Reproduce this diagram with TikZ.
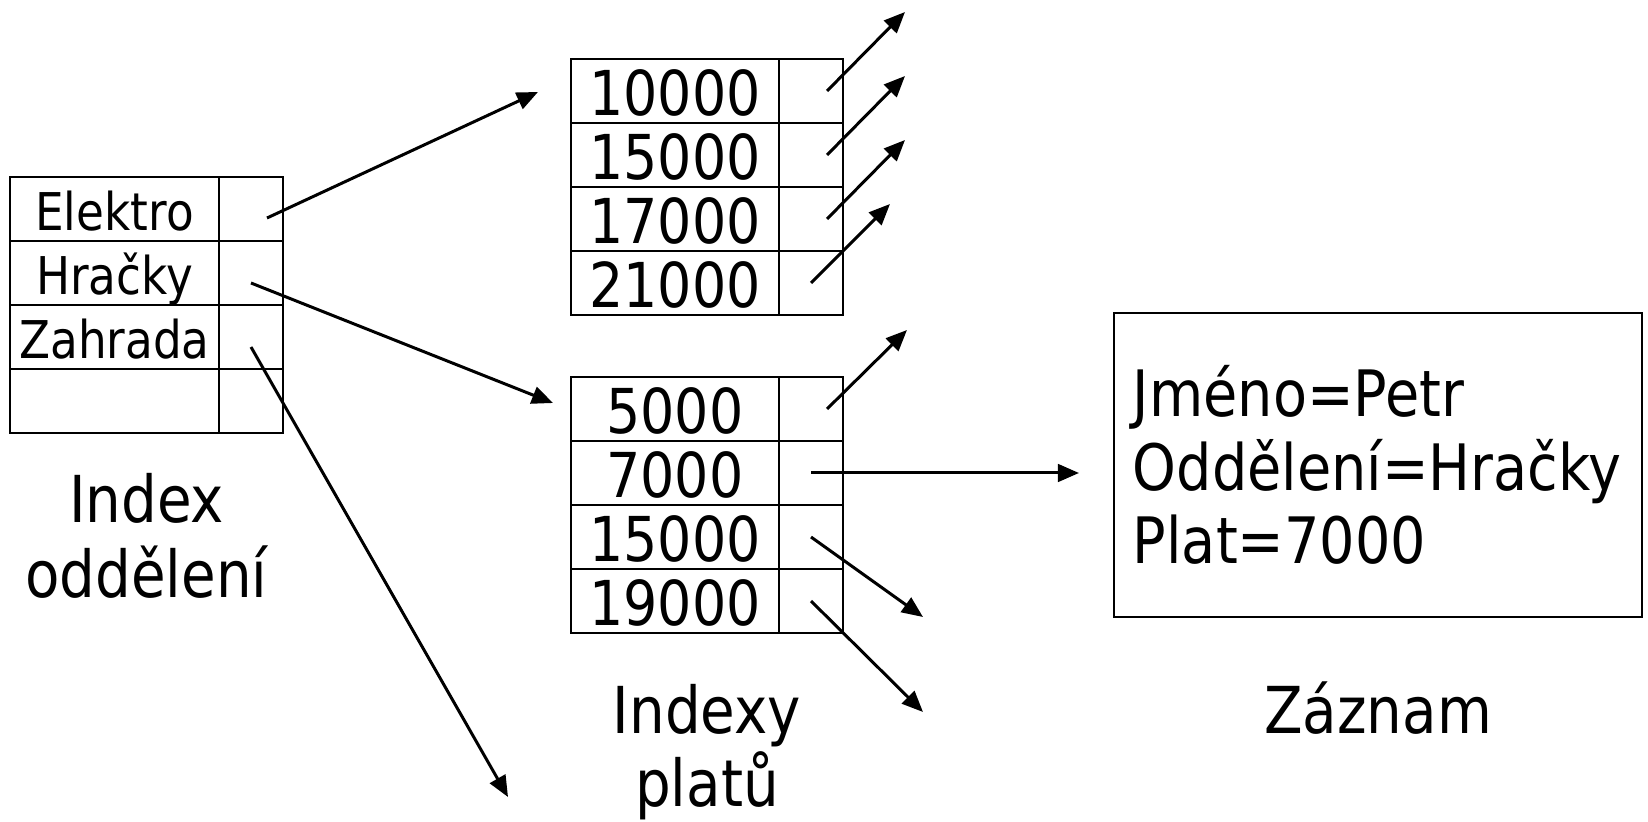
\documentclass[tikz,border=0pt]{standalone}
\usepackage{fontspec}
\setmainfont{DejaVu Sans}[FakeStretch=0.87]
\usetikzlibrary{arrows.meta}

\tikzset{
  cell/.style={draw, line width=0.6pt, inner sep=0pt, minimum height=6.4mm},
  deptkey/.style={cell, minimum width=20.9mm, font=\fontsize{14.8pt}{17pt}\selectfont, text height=12.5pt, text depth=0pt},
  salkey/.style={cell, minimum width=20.8mm, font=\fontsize{17.6pt}{20.8pt}\selectfont, text height=14.2pt, text depth=0pt},
  ptrcell/.style={cell, minimum width=6.4mm},
  ptr/.style={line width=0.85pt, -{Triangle[length=6pt,width=5pt]}},
  lbl/.style={anchor=base, inner sep=0pt, font=\fontsize{18.4pt}{21pt}\selectfont},
}

\begin{document}
\begin{tikzpicture}[x=0.01cm,y=-0.01cm]
  \useasboundingbox (0,0) rectangle (1648,822);

  % index oddeleni
  \node[deptkey] (d1) at (114.5,209) {Elektro};
  \node[deptkey] (d2) at (114.5,273) {Hračky};
  \node[deptkey] (d3) at (114.5,337) {Zahrada};
  \node[deptkey] (d4) at (114.5,401) {};
  \node[ptrcell] (d1p) at (251,209) {};
  \node[ptrcell] (d2p) at (251,273) {};
  \node[ptrcell] (d3p) at (251,337) {};
  \node[ptrcell] (d4p) at (251,401) {};
  \node[lbl] (deptA) at (146.5,523) {Index};
  \node[lbl] (deptB) at (146.5,598) {oddělení};

  % indexy platu
  \node[salkey] (s1) at (675,91) {10000};
  \node[salkey] (s2) at (675,155) {15000};
  \node[salkey] (s3) at (675,219) {17000};
  \node[salkey] (s4) at (675,283) {21000};
  \node[ptrcell] (s1p) at (811,91) {};
  \node[ptrcell] (s2p) at (811,155) {};
  \node[ptrcell] (s3p) at (811,219) {};
  \node[ptrcell] (s4p) at (811,283) {};

  \node[salkey] (b1) at (675,409) {5000};
  \node[salkey] (b2) at (675,473) {7000};
  \node[salkey] (b3) at (675,537) {15000};
  \node[salkey] (b4) at (675,601) {19000};
  \node[ptrcell] (b1p) at (811,409) {};
  \node[ptrcell] (b2p) at (811,473) {};
  \node[ptrcell] (b3p) at (811,537) {};
  \node[ptrcell] (b4p) at (811,601) {};
  \node[lbl] (salA) at (707,734) {Indexy};
  \node[lbl] (salB) at (707,807) {platů};

  % zaznam
  \node[draw, line width=0.6pt, inner xsep=1.9mm, text width=49mm, minimum height=30.4mm, align=left,
        font=\fontsize{18.2pt}{20.8pt}\selectfont] (rec) at (1378,465)
        {Jméno=Petr\\Oddělení=Hračky\\Plat=7000};
  \node[lbl] (recLbl) at (1378,734) {Záznam};

  % volne konce sipek
  \coordinate (dIn1) at (538,92);
  \coordinate (dIn2) at (553,403);
  \coordinate (dIn3) at (508,797);
  \coordinate (sOut1) at (905,12);
  \coordinate (sOut2) at (905,76);
  \coordinate (sOut3) at (905,140);
  \coordinate (sOut4) at (890,204);
  \coordinate (bOut1) at (907,330);
  \coordinate (recIn) at (1079,473);
  \coordinate (bOut3) at (923,617);
  \coordinate (bOut4) at (923,712);

  \draw[ptr] ([xshift=1.6mm,yshift=-0.9mm]d1p.center) -- (dIn1);
  \draw[ptr] ([yshift=-1mm]d2p.center) -- (dIn2);
  \draw[ptr] ([yshift=-1mm]d3p.center) -- (dIn3);

  \draw[ptr] ([xshift=1.6mm]s1p.center) -- (sOut1);
  \draw[ptr] ([xshift=1.6mm]s2p.center) -- (sOut2);
  \draw[ptr] ([xshift=1.6mm]s3p.center) -- (sOut3);
  \draw[ptr] (s4p.center) -- (sOut4);

  \draw[ptr] ([xshift=1.6mm]b1p.center) -- (bOut1);
  \draw[ptr] (b2p.center) -- (recIn);
  \draw[ptr] (b3p.center) -- (bOut3);
  \draw[ptr] (b4p.center) -- (bOut4);
\end{tikzpicture}
\end{document}
